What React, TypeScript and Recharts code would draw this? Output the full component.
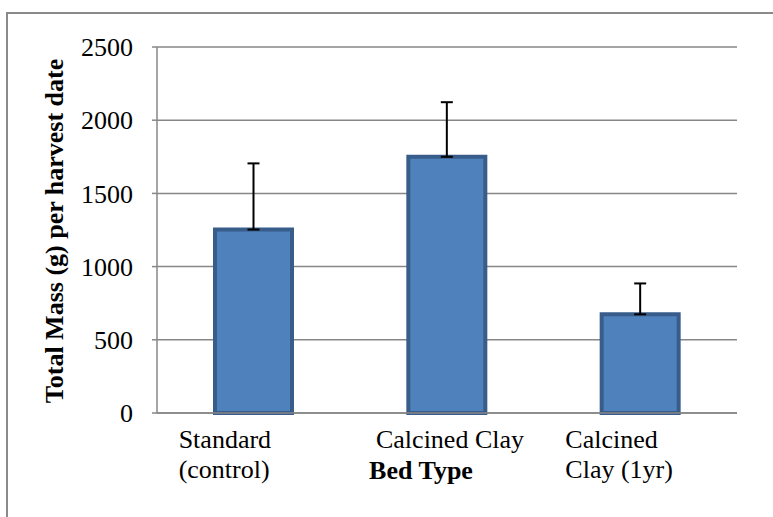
import React from 'react';
import { BarChart, Bar, XAxis, YAxis, CartesianGrid, ErrorBar } from 'recharts';

const categories = ['Standard\n(control)', 'Calcined Clay', 'Calcined\nClay (1yr)'];
const massValues = [1253, 1750, 674];
const errorValues = [452, 373, 211];
const yTicks = [0, 500, 1000, 1500, 2000, 2500];

const data = categories.map((c, i) => ({
  name: c,
  mass: massValues[i],
  err: [0, errorValues[i]],
}));

const FONT = '"Liberation Serif", "Times New Roman", serif';

function CategoryTick(props: any) {
  const { x, y, payload } = props;
  const lines = String(payload.value).split('\n');
  if (lines.length === 1) {
    return (
      <text x={x + 3} y={y + 35} textAnchor="middle" fontFamily={FONT} fontSize={26} fill="#000">
        {lines[0]}
      </text>
    );
  }
  return (
    <text x={x - 75} y={y + 35} textAnchor="start" fontFamily={FONT} fontSize={26} fill="#000">
      {lines.map((l, i) => (
        <tspan key={i} x={x - 75} dy={i === 0 ? 0 : 30}>
          {l}
        </tspan>
      ))}
    </text>
  );
}

function XTitle(props: any) {
  const { viewBox } = props;
  const cx = viewBox.x + viewBox.width / 2 - 26;
  return (
    <text x={cx} y={viewBox.y + 66} textAnchor="middle" fontFamily={FONT} fontSize={26} fontWeight="bold" fill="#000">
      Bed Type
    </text>
  );
}

function YTitle(props: any) {
  const { viewBox } = props;
  const bx = 63;
  const cy = viewBox.y + viewBox.height / 2 + 1;
  return (
    <text
      x={bx}
      y={cy}
      transform={`rotate(-90 ${bx} ${cy})`}
      textAnchor="middle"
      fontFamily={FONT}
      fontSize={26}
      fontWeight="bold"
      fill="#000"
    >
      Total Mass (g) per harvest date
    </text>
  );
}

export default function App() {
  return (
    <div style={{ position: 'absolute', left: 0, top: 0, width: 773, height: 517, overflow: 'hidden', background: '#fff' }}>
      <div
        style={{
          position: 'absolute',
          left: 6,
          top: 12,
          width: 900,
          height: 700,
          borderLeft: '2px solid #8a8a8a',
          borderTop: '2px solid #8a8a8a',
        }}
      />
      <div style={{ position: 'absolute', left: 0, top: 0 }}>
        <BarChart width={773} height={517} data={data} margin={{ top: 47, right: 36, bottom: 0, left: 0 }}>
          <CartesianGrid vertical={false} stroke="#878787" strokeWidth={1.5} />
          <XAxis
            dataKey="name"
            height={104}
            tickSize={0}
            tickMargin={0}
            tickLine={false}
            axisLine={{ stroke: '#878787', strokeWidth: 1.5 }}
            tick={<CategoryTick />}
            interval={0}
            label={<XTitle />}
          />
          <YAxis
            width={157}
            domain={[0, 2500]}
            ticks={yTicks}
            tickSize={5}
            tickMargin={19}
            tickLine={{ stroke: '#878787', strokeWidth: 1.5 }}
            axisLine={{ stroke: '#878787', strokeWidth: 1.5 }}
            tick={{ fontFamily: FONT, fontSize: 26, fill: '#000' }}
            label={<YTitle />}
          />
          <Bar dataKey="mass" fill="#4F81BD" stroke="#385D8A" strokeWidth={4} barSize={77} isAnimationActive={false}>
            <ErrorBar dataKey="err" width={6} stroke="#000" strokeWidth={2} direction="y" />
          </Bar>
        </BarChart>
      </div>
    </div>
  );
}
